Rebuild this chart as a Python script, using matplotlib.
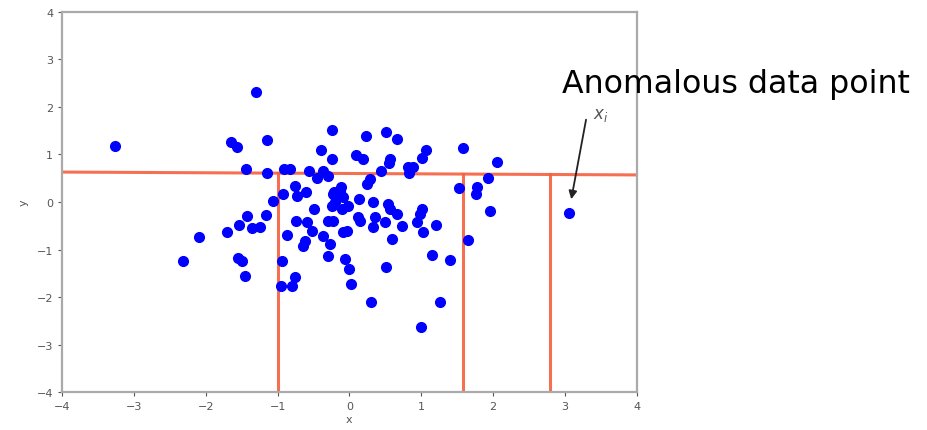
import matplotlib
matplotlib.use("Agg")
import matplotlib.pyplot as plt

# scatter points
xs = [-3.27, -1.30, -1.65, -1.57, -1.15, -1.44, -1.15, -0.91, -0.83, -0.56,
      -0.40, -0.24, -0.25, 0.23, 0.51, 0.66, 0.09, 0.19, 0.56, 0.55,
      -0.37, -0.30, -0.45, 0.44, 0.28, 0.24, -0.12, -0.22, 0.81, 1.06,
      1.01, 0.88, 0.83, 1.58, 2.05, 1.93, 1.52, 1.77, 1.76, -1.06,
      -0.92, -0.76, -0.73, -0.60, -1.42, -1.16, -1.54, -1.36, -1.25, -1.71,
      -2.09, -0.74, -0.87, -2.32, -1.55, -1.49, -1.45, -0.94, -0.95, -0.80,
      -0.76, -0.49, -0.59, -0.52, -0.30, -0.23, 0.12, 0.15, 0.35, 0.33,
      0.49, 0.73, -0.37, -0.62, -0.65, -0.27, -0.30, -0.09, -0.03, 0.59,
      -0.06, -0.01, 0.02, 0.51, 0.30, 1.01, 0.98, 0.94, 1.02, 1.20,
      1.15, 1.40, 1.26, 1.95, 1.65, 1.00, -0.23, -0.13, -0.20, -0.09,
      -0.02, -0.10, -0.24, 0.13, 0.33, 0.54, 0.56, 0.66]
ys = [1.18, 2.32, 1.26, 1.15, 1.30, 0.69, 0.60, 0.69, 0.69, 0.65,
      1.09, 1.51, 0.91, 1.39, 1.47, 1.33, 0.99, 0.91, 0.91, 0.82,
      0.65, 0.55, 0.51, 0.65, 0.48, 0.38, 0.32, 0.20, 0.74, 1.09,
      0.93, 0.74, 0.61, 1.14, 0.84, 0.51, 0.29, 0.31, 0.17, 0.02,
      0.17, 0.33, 0.12, 0.21, -0.29, -0.27, -0.48, -0.55, -0.53, -0.63,
      -0.74, -0.40, -0.70, -1.24, -1.18, -1.24, -1.56, -1.24, -1.77, -1.77,
      -1.58, -0.15, -0.42, -0.61, -0.40, -0.40, -0.32, -0.40, -0.32, -0.53,
      -0.42, -0.51, -0.72, -0.82, -0.93, -0.88, -1.14, -0.63, -0.61, -0.78,
      -1.20, -1.41, -1.73, -1.37, -2.11, -0.15, -0.25, -0.42, -0.63, -0.48,
      -1.12, -1.22, -2.11, -0.19, -0.80, -2.63, 0.17, 0.23, 0.00, 0.11,
      -0.08, -0.15, -0.08, 0.06, 0.00, -0.04, -0.15, -0.25]

# the isolated point
anomaly_x = 3.05
anomaly_y = -0.23

# splits of the isolation tree
split_y = (0.63, 0.57)   # horizontal split, left and right end
split_xs = [-1.0, 1.58, 2.79]

fig = plt.figure(figsize=(9.27, 4.31), dpi=100)
ax = fig.add_axes([0.067, 0.088, 0.620, 0.882])

red = "#f4613f"
ax.plot([-4, 4], split_y, color=red, lw=2.2, alpha=0.9, zorder=1)
for sx in split_xs:
    top = split_y[0] + (split_y[1] - split_y[0]) * (sx + 4) / 8
    ax.plot([sx, sx], [-4, top], color=red, lw=2.2, alpha=0.9, zorder=1)

ax.plot(xs, ys, "o", color="blue", ms=7, zorder=2)
ax.plot([anomaly_x], [anomaly_y], "o", color="blue", ms=7, zorder=2)

ax.annotate("", xy=(3.08, 0.0), xytext=(3.30, 1.79),
            arrowprops=dict(arrowstyle="-|>", color="#222222", lw=1.3,
                            mutation_scale=12))
ax.text(3.50, 1.85, r"$x_i$", color="#555555", fontsize=12,
        ha="center", va="center")

ax.set_xlim(-4, 4)
ax.set_ylim(-4, 4)
ax.set_xticks(range(-4, 5))
ax.set_yticks(range(-4, 5))
ax.set_xlabel("x", fontsize=8, color="#555555", labelpad=2)
ax.set_ylabel("y", fontsize=8, color="#555555", labelpad=6)
ax.tick_params(labelsize=8, colors="#555555", length=3)
for sp in ax.spines.values():
    sp.set_color("#aaaaaa")
    sp.set_linewidth(1.6)

fig.text(0.606, 0.785, "Anomalous data point", fontsize=22.8,
         family="DejaVu Sans", color="black", ha="left", va="baseline")

fig.savefig("out.png", dpi=100)
